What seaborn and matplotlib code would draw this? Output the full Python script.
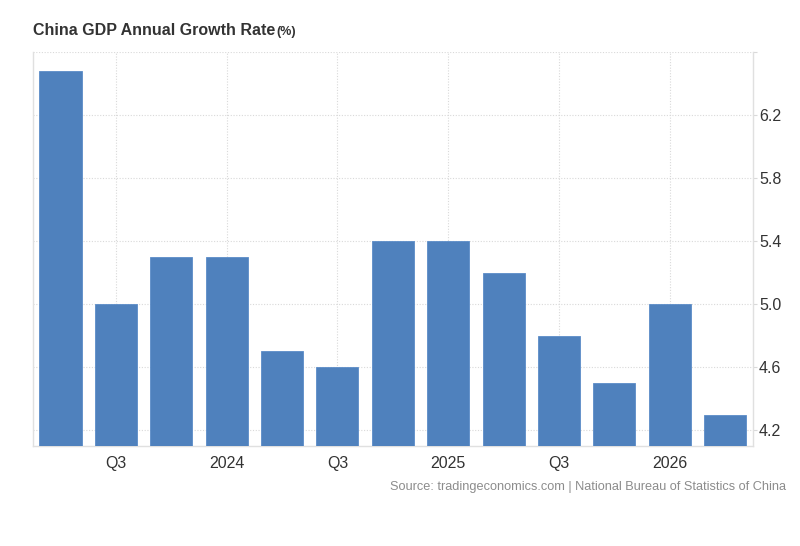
import matplotlib.pyplot as plt
import pandas as pd
import seaborn as sns

# quarterly GDP growth, Q2 2023 .. Q2 2026
quarters = ["Q2 2023", "Q3 2023", "Q4 2023", "Q1 2024", "Q2 2024", "Q3 2024", "Q4 2024",
            "Q1 2025", "Q2 2025", "Q3 2025", "Q4 2025", "Q1 2026", "Q2 2026"]
growth = [6.48, 5.0, 5.3, 5.3, 4.7, 4.6, 5.4, 5.4, 5.2, 4.8, 4.5, 5.0, 4.3]
tick_pos = [1, 3, 5, 7, 9, 11]
tick_labels = ["Q3", "2024", "Q3", "2025", "Q3", "2026"]
y_ticks = [4.2, 4.6, 5.0, 5.4, 5.8, 6.2, 6.6]

df = pd.DataFrame({"quarter": quarters, "growth": growth})

sns.set_style("white")
plt.rcParams['font.family'] = ['Liberation Sans', 'DejaVu Sans']

fig = plt.figure(figsize=(8, 5.46), dpi=100)
ax = fig.add_axes([0.041, 0.183, 0.9, 0.722])

sns.barplot(data=df, x="quarter", y="growth", color="#4f81bd", saturation=1,
            width=0.76, edgecolor="#5b8cc8", linewidth=0.6, ax=ax, zorder=3)

ax.set_xlim(-0.5, 12.5)
ax.set_ylim(4.1, 6.6)

# grid
ax.set_yticks(y_ticks)
ax.set_yticklabels([f"{v:.1f}" if v < 6.5 else "" for v in y_ticks])
ax.set_xticks(tick_pos)
ax.set_xticklabels(tick_labels)
ax.grid(True, color="#d9d9d9", linestyle=(0, (1, 1.5)), linewidth=0.8, zorder=0)

ax.yaxis.tick_right()
ax.tick_params(axis="y", length=3, color="#d9d9d9", width=0.8, labelsize=11.5,
               labelcolor="#333333", pad=1.5)
ax.tick_params(axis="x", length=0, labelsize=11.5, labelcolor="#333333", pad=7)

ax.spines["top"].set_visible(False)
for side in ["left", "right", "bottom"]:
    ax.spines[side].set_color("#e0e0e0")
    ax.spines[side].set_linewidth(1)
ax.set_xlabel("")
ax.set_ylabel("")

fig.text(0.041, 0.935, "China GDP Annual Growth Rate", fontsize=11.5, fontweight="bold",
         color="#333333", ha="left", va="baseline")
fig.text(0.346, 0.935, "(%)", fontsize=9, fontweight="bold", color="#333333",
         ha="left", va="baseline")
fig.text(0.982, 0.102, "Source: tradingeconomics.com | National Bureau of Statistics of China",
         fontsize=9.2, color="#8c8c8c", ha="right", va="baseline")

fig.savefig("out.png", dpi=100)
